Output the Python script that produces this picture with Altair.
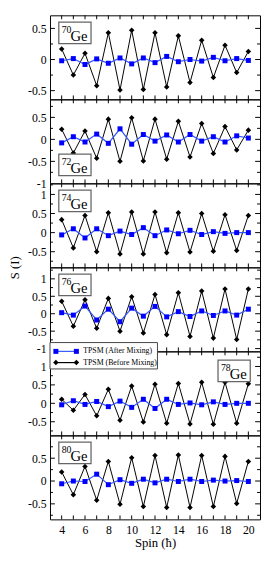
import altair as alt
import pandas as pd

FONT = "Liberation Serif"
W, H = 215, 86

spins = list(range(4, 21))
x_label_vals = [4, 6, 8, 10, 12, 14, 16, 18, 20]
y_major = [-1.0, -0.5, 0.0, 0.5, 1.0]
y_minor = [-1.25, -0.75, -0.25, 0.25, 0.75, 1.25]

masses = ["70", "72", "74", "76", "78", "80"]
element = "Ge"

before_70 = [0.17, -0.25, 0.10, -0.42, 0.43, -0.49, 0.47, -0.48, 0.43, -0.44, 0.38, -0.37, 0.31, -0.29, 0.23, -0.21, 0.13]
after_70 = [-0.02, 0.015, -0.08, 0.01, -0.06, 0.025, -0.07, 0.025, -0.05, 0.05, -0.035, 0.0, -0.025, 0.035, -0.02, 0.015, -0.015]

before_72 = [0.23, -0.31, 0.19, -0.43, 0.46, -0.50, 0.49, -0.49, 0.46, -0.45, 0.41, -0.40, 0.36, -0.32, 0.29, -0.24, 0.21]
after_72 = [-0.08, 0.06, -0.06, 0.12, -0.09, 0.24, -0.11, 0.11, -0.04, 0.10, -0.06, 0.11, -0.04, 0.06, -0.06, 0.08, 0.03]

before_74 = [0.34, -0.40, 0.45, -0.50, 0.52, -0.56, 0.54, -0.56, 0.54, -0.53, 0.52, -0.51, 0.50, -0.49, 0.47, -0.47, 0.45]
after_74 = [-0.06, 0.10, -0.14, 0.10, -0.08, 0.04, -0.05, 0.13, -0.08, 0.07, -0.03, 0.06, -0.05, 0.025, -0.02, 0.0, 0.0]

before_76 = [0.36, -0.36, 0.40, -0.42, 0.44, -0.50, 0.49, -0.55, 0.55, -0.60, 0.60, -0.65, 0.65, -0.70, 0.71, -0.74, 0.71]
after_76 = [0.03, -0.04, 0.22, -0.18, 0.13, -0.23, 0.16, -0.07, 0.21, -0.09, 0.06, -0.08, 0.08, -0.05, 0.08, -0.04, 0.13]

before_78 = [0.11, -0.19, 0.24, -0.34, 0.38, -0.46, 0.47, -0.51, 0.52, -0.54, 0.54, -0.56, 0.57, -0.57, 0.57, -0.54, 0.53]
after_78 = [-0.04, 0.07, -0.03, 0.05, -0.09, 0.06, -0.11, 0.11, -0.14, 0.11, -0.03, 0.01, -0.04, 0.04, -0.03, 0.0, 0.0]

before_80 = [0.20, -0.30, 0.32, -0.42, 0.43, -0.51, 0.51, -0.56, 0.56, -0.58, 0.57, -0.58, 0.56, -0.56, 0.54, -0.49, 0.43]
after_80 = [-0.06, 0.0, -0.01, 0.15, -0.08, 0.03, -0.05, 0.04, -0.04, 0.04, -0.01, 0.04, -0.01, 0.02, 0.0, 0.01, -0.01]

before_all = [before_70, before_72, before_74, before_76, before_78, before_80]
after_all = [after_70, after_72, after_74, after_76, after_78, after_80]

y_domains = [[-0.64, 0.71], [-1.0, 0.91], [-0.91, 1.29], [-1.08, 1.33], [-0.87, 1.41], [-0.84, 1.0]]
y_label_vals = [[-0.5, 0, 0.5], [-1, -0.5, 0, 0.5], [-0.5, 0, 0.5, 1], [-1, -0.5, 0, 0.5, 1], [-0.5, 0, 0.5, 1], [-0.5, 0, 0.5]]
label_corner = ["tl", "bl", "tl", "tl", "tr", "tl"]

legend_labels = ["TPSM (After Mixing)", "TPSM (Before Mixing)"]

BLUE = "#0000ff"
BLUE_LINE = "#3355ff"
BOXC = "#666666"


def panel(i):
    dom = y_domains[i]
    last = i == len(masses) - 1
    if last:
        xaxis = alt.Axis(values=x_label_vals, ticks=False, domain=False, grid=False,
                         labelPadding=5, title="Spin (ħ)", titlePadding=2)
    else:
        xaxis = None
    yaxis_kw = dict(values=y_label_vals[i], ticks=False, domain=False, grid=False,
                    labelPadding=4, labelExpr="'' + datum.value")
    if i == 2:
        yaxis = alt.Axis(title="S (I)", titleX=-29, titleY=H, **yaxis_kw)
    else:
        yaxis = alt.Axis(title=None, **yaxis_kw)
    xs = alt.Scale(domain=[3, 21], nice=False, zero=False)
    ys = alt.Scale(domain=dom, nice=False, zero=False)
    X = alt.X("spin:Q", scale=xs, axis=xaxis)
    Y = alt.Y("val:Q", scale=ys, axis=yaxis)

    layers = []
    xt = pd.DataFrame({"spin": spins})
    layers.append(alt.Chart(xt).mark_rule(color="black", strokeWidth=1).encode(x=X, y=alt.value(0), y2=alt.value(4)))
    layers.append(alt.Chart(xt).mark_rule(color="black", strokeWidth=1).encode(x=X, y=alt.value(H), y2=alt.value(H - 4)))
    ymaj = pd.DataFrame({"val": [v for v in y_major if dom[0] < v < dom[1]]})
    ymin = pd.DataFrame({"val": [v for v in y_minor if dom[0] < v < dom[1]]})
    for d, L in ((ymaj, 5), (ymin, 3)):
        layers.append(alt.Chart(d).mark_rule(color="black", strokeWidth=1).encode(y=Y, x=alt.value(0), x2=alt.value(L)))
        layers.append(alt.Chart(d).mark_rule(color="black", strokeWidth=1).encode(y=Y, x=alt.value(W), x2=alt.value(W - L)))

    db = pd.DataFrame({"spin": spins, "val": before_all[i]})
    da = pd.DataFrame({"spin": spins, "val": after_all[i]})
    layers.append(alt.Chart(db).mark_line(color="black", strokeWidth=1).encode(x=X, y=Y))
    layers.append(alt.Chart(db).mark_point(shape="diamond", filled=True, color="black", size=32, opacity=1).encode(x=X, y=Y))
    layers.append(alt.Chart(da).mark_line(color=BLUE_LINE, strokeWidth=1.2).encode(x=X, y=Y))
    layers.append(alt.Chart(da).mark_point(shape="square", filled=True, color=BLUE, size=26, opacity=1).encode(x=X, y=Y))

    corner = label_corner[i]
    bw, bh = 33, 22
    if corner == "tl":
        x0, y0 = 9, 7
    elif corner == "bl":
        x0, y0 = 9, H - 8 - bh
    else:
        x0, y0 = W - 9 - bw - 1, 9
    lab = pd.DataFrame({"mass": [masses[i]], "elem": [element]})
    layers.append(alt.Chart(lab).mark_rect(fill="white", stroke=BOXC, strokeWidth=1.3).encode(
        x=alt.value(x0), x2=alt.value(x0 + bw), y=alt.value(y0), y2=alt.value(y0 + bh)))
    layers.append(alt.Chart(lab).mark_text(font=FONT, fontSize=10, align="left", baseline="alphabetic", color="black").encode(
        text="mass:N", x=alt.value(x0 + 3), y=alt.value(y0 + 11)))
    layers.append(alt.Chart(lab).mark_text(font=FONT, fontSize=15, align="left", baseline="alphabetic", color="black").encode(
        text="elem:N", x=alt.value(x0 + 12), y=alt.value(y0 + 19)))

    if i == 4:
        lg = pd.DataFrame({"label": legend_labels})
        layers.append(alt.Chart(lg.head(1)).mark_rect(fill="white", stroke="#444444", strokeWidth=1).encode(
            x=alt.value(0), x2=alt.value(110), y=alt.value(-9), y2=alt.value(18)))
        rows = [(0, legend_labels[0], BLUE, BLUE_LINE, "square", 26), (11.5, legend_labels[1], "black", "black", "diamond", 32)]
        for yy, txt, pc, lc, shp, sz in rows:
            d1 = pd.DataFrame({"label": [txt]})
            layers.append(alt.Chart(d1).mark_rule(color=lc, strokeWidth=1.2).encode(
                x=alt.value(6), x2=alt.value(27), y=alt.value(yy)))
            for xx in (6, 27):
                layers.append(alt.Chart(d1).mark_point(shape=shp, filled=True, color=pc, size=sz, opacity=1).encode(
                    x=alt.value(xx), y=alt.value(yy)))
            layers.append(alt.Chart(d1).mark_text(font=FONT, fontSize=8, align="left", baseline="middle", color="black").encode(
                text="label:N", x=alt.value(34), y=alt.value(yy)))

    return alt.layer(*layers).properties(width=W, height=H)


chart = alt.vconcat(*[panel(i) for i in range(len(masses))], spacing=0, bounds="flush").properties(
    padding={"left": 0, "top": 0, "right": 0, "bottom": 0}
).configure_view(stroke="black", strokeWidth=1).configure_axis(
    labelFont=FONT, titleFont=FONT, labelFontSize=12, titleFontSize=13,
    labelColor="black", titleColor="black", titleFontWeight="normal"
)

chart.save("out.html", embed_options={"renderer": "svg", "actions": False})
